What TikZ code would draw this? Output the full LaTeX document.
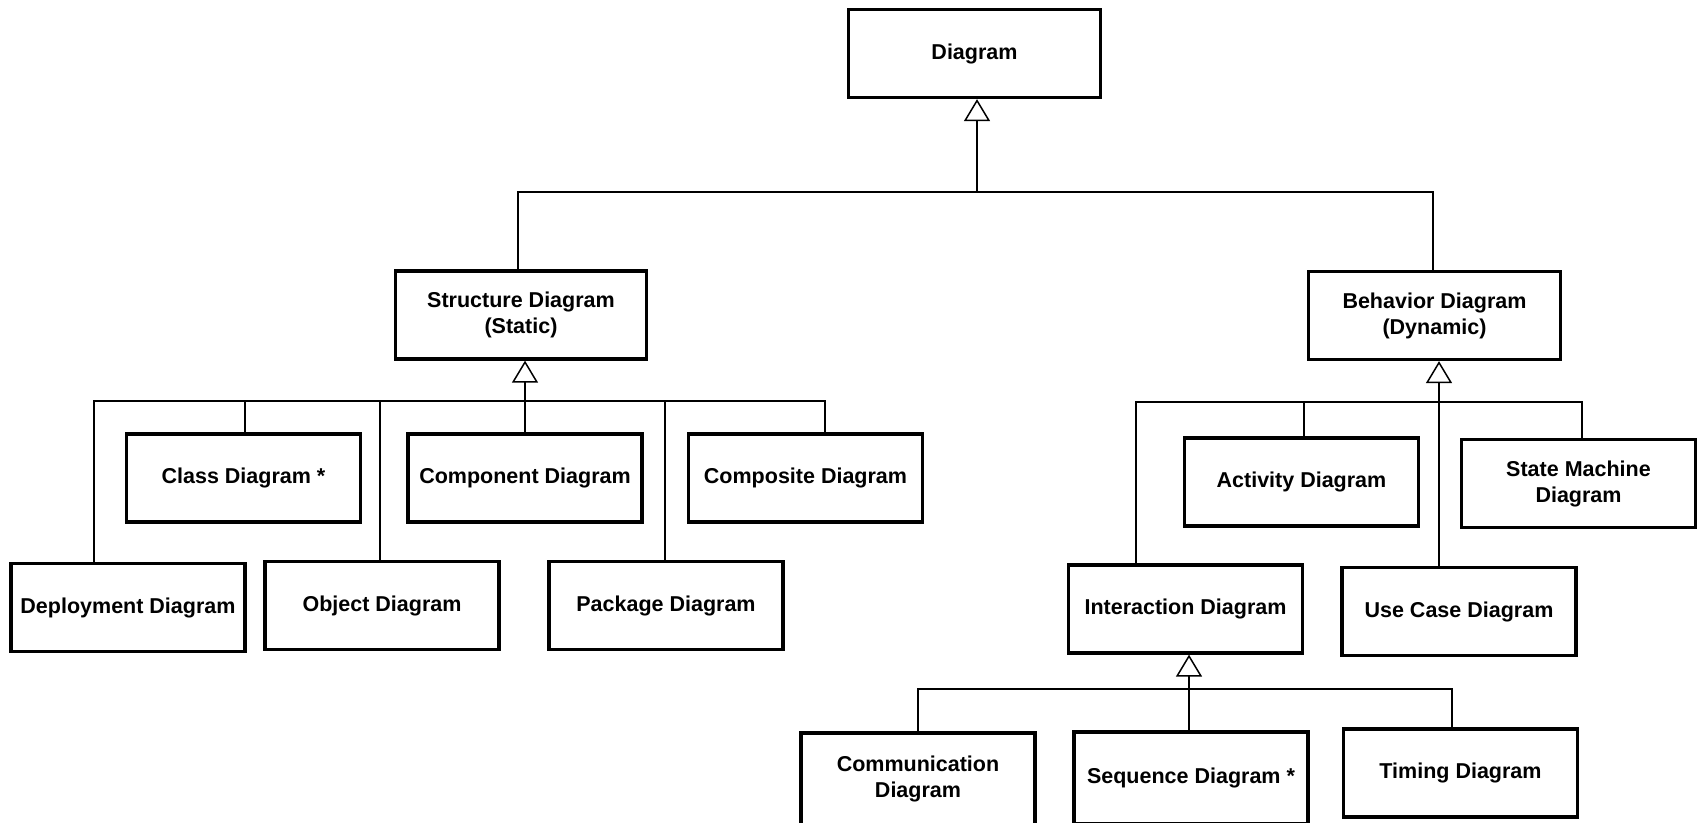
\documentclass[tikz,border=0pt]{standalone}
\usepackage{fontspec}
\setmainfont{Liberation Sans}
\usetikzlibrary{arrows.meta}
\begin{document}
\begin{tikzpicture}[x=1pt,y=-1pt,
  box/.style={draw, line width=3.3pt, minimum width=#1, minimum height=88pt,
    inner sep=0pt, align=center,
    font=\fontsize{21.5}{26}\selectfont\bfseries},
  box/.default=234pt,
  tallbox/.style={box, minimum height=92pt},
  conn/.style={line width=1.5pt},
  gen/.style={line width=1.5pt,
    -{Triangle[open, length=22pt, width=26pt, line width=1.5pt]}}]

% page area
\fill[white] (0,0) rectangle (1700,822);
\useasboundingbox (0,0) rectangle (1700,822);

% root
\node[box=252pt] (diagram) at (974.5,53.5) {Diagram};

% second level
\node[box=251pt] (structure) at (521,315) {Structure Diagram\\(Static)};
\node[box=252pt] (behavior) at (1434.5,315.5) {Behavior Diagram\\(Dynamic)};

% structure diagrams
\node[box] (class)      at (243.5,478) {Class Diagram *};
\node[box] (component)  at (525,478)   {Component Diagram};
\node[box] (composite)  at (805.5,478) {Composite Diagram};
\node[box] (deployment) at (128,607.5) {Deployment Diagram};
\node[box] (object)     at (382,605.5) {Object Diagram};
\node[box] (package)    at (666,605.5) {Package Diagram};

% behavior diagrams
\node[box] (activity)     at (1301.5,482)  {Activity Diagram};
\node[box] (statemachine) at (1578.5,483.5) {State Machine\\Diagram};
\node[box] (interaction)  at (1185.5,609)  {Interaction Diagram};
\node[box] (usecase)      at (1459,611.5)  {Use Case Diagram};

% interaction diagrams (the first two run past the lower edge)
\node[tallbox] (communication) at (918,779)  {Communication\\Diagram};
\node[tallbox] (sequence)      at (1191,778) {Sequence Diagram *};
\node[box]     (timing)        at (1460.5,773) {Timing Diagram};

% generalisation: Diagram
\coordinate (top) at (977,192);
\draw[conn] ([xshift=-3pt]structure.north) |- (top) -| ([xshift=-1.5pt]behavior.north);
\draw[gen] (top) -- ([xshift=2.5pt]diagram.south);

% generalisation: Structure Diagram
\coordinate (sbus) at (525,401);
\draw[conn] ([xshift=-34pt]deployment.north) |- (sbus) -| ([xshift=19.5pt]composite.north);
\draw[conn] ([xshift=1.5pt]class.north) |- (sbus);
\draw[conn] ([xshift=-2pt]object.north) |- (sbus);
\draw[conn] ([xshift=-1pt]package.north) |- (sbus);
\draw[conn] (component.north) -- (sbus);
\draw[gen] (sbus) -- ([xshift=4pt]structure.south);

% generalisation: Behavior Diagram
\coordinate (bbus) at (1439,402);
\draw[conn] ([xshift=-49.5pt]interaction.north) |- (bbus) -| ([xshift=3.5pt]statemachine.north);
\draw[conn] ([xshift=2.5pt]activity.north) |- (bbus);
\draw[gen] ([xshift=-20pt]usecase.north) -- ([xshift=4.5pt]behavior.south);

% generalisation: Interaction Diagram
\coordinate (ibus) at (1189,689);
\draw[conn] (communication.north) |- (ibus) -| ([xshift=-8.5pt]timing.north);
\draw[conn] ([xshift=-2pt]sequence.north) -- (ibus);
\draw[gen] (ibus) -- ([xshift=3.5pt]interaction.south);
\end{tikzpicture}
\end{document}
